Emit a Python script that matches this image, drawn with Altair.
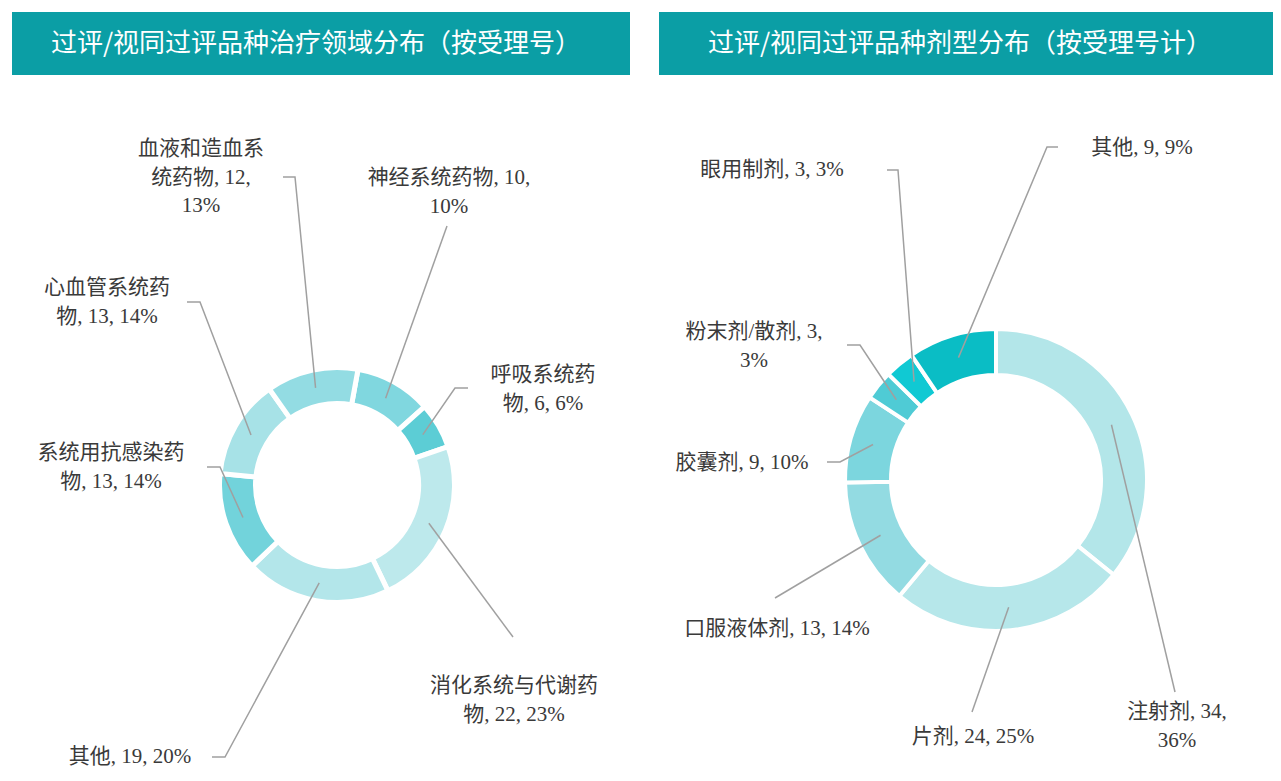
import math
import altair as alt
import pandas as pd

# ---------------- data ----------------
titles = ["过评/视同过评品种治疗领域分布（按受理号）", "过评/视同过评品种剂型分布（按受理号计）"]

left_cats = ["神经系统药物", "呼吸系统药物", "消化系统与代谢药物", "其他",
             "系统用抗感染药物", "心血管系统药物", "血液和造血系统药物"]
left_vals = [10, 6, 22, 19, 13, 13, 12]
left_pcts = [10, 6, 23, 20, 14, 14, 13]
left_colors = ["#80d7df", "#5ccdd5", "#bde9ec", "#b3e6ea", "#72d3db", "#a7e2e7", "#93dce3"]

right_cats = ["注射剂", "片剂", "口服液体剂", "胶囊剂", "粉末剂/散剂", "眼用制剂", "其他"]
right_vals = [34, 24, 13, 9, 3, 3, 9]
right_pcts = [36, 25, 14, 10, 3, 3, 9]
right_colors = ["#b3e6e9", "#b6e7ea", "#93dbe2", "#7cd6de", "#4fcbd5", "#10c9d3", "#0abdc5"]

# ---------------- layout (page pixel coordinates) ----------------
W, H = 1265, 760
OX, OY = 8, 8
BANNER_COLOR = "#0b9ea5"
banners = [(12, 630, 12, 75), (659, 1273, 12, 75)]
title_pos = [(316, 44), (960, 44)]

left_geo = dict(cx=337, cy=485, ro=115, ri=84, gap=5, start=10.3)
right_geo = dict(cx=996, cy=480, ro=149, ri=107, gap=4, start=0.0)

# number of characters per wrapped line (rest goes to last line)
left_wrap = [[11], [5], [8], [], [7], [6], [6, 8]]
right_wrap = [[8], [], [], [], [10], [], []]

left_text_pos = [(449, 178), (543, 375), (514, 686), (130, 757), (111, 453), (107, 288), (201, 149)]
right_text_pos = [(1177, 712), (973, 737), (777, 629), (742, 463), (754, 332), (772, 170), (1142, 148)]
LINE_STEP = 28.5

left_leader = [[(447, 226)], [(455, 388), (468, 388)], [(513, 637)], [(225, 757), (212, 757)],
               [(220, 467), (207, 467)], [(200, 302), (187, 302)], [(295, 177), (283, 177)]]
right_leader = [[(1175, 692)], [(972, 712)], [(775, 598)], [(840, 462), (827, 462)],
                [(860, 345), (847, 345)], [(898, 170), (887, 170)], [(1047, 147), (1058, 147)]]

LABEL_FONT = "Liberation Serif, Noto Sans CJK SC"
TITLE_FONT = "Noto Sans CJK SC"

xs = alt.Scale(domain=[OX, OX + W], range=[0, W], nice=False, zero=False)
ys = alt.Scale(domain=[OY, OY + H], range=[0, H], nice=False, zero=False)


def wrap(s, counts):
    out, i = [], 0
    for c in counts:
        out.append(s[i:i + c].strip())
        i += c
    out.append(s[i:].strip())
    return out


text_rows, line_rows = [], []


def build(side, cats, vals, pcts, wraps, tpos, leaders, geo):
    total = sum(vals)
    cum = 0
    rm = (geo["ro"] + geo["ri"]) / 2
    for i, (c, v, p) in enumerate(zip(cats, vals, pcts)):
        mid = geo["start"] + (cum + v / 2) / total * 360
        cum += v
        a = math.radians(mid)
        sx = geo["cx"] + rm * math.sin(a)
        sy = geo["cy"] - rm * math.cos(a)
        key = f"{side}{i}"
        pts = [(sx, sy)] + leaders[i]
        for k, (px, py) in enumerate(pts):
            line_rows.append(dict(key=key, ord=k, px=px, py=py))
        lines = wrap(f"{c}, {v}, {p}%", wraps[i])
        x0, y0 = tpos[i]
        for k, ln in enumerate(lines):
            text_rows.append(dict(key=key, t=ln, px=x0, py=y0 + k * LINE_STEP))


build("L", left_cats, left_vals, left_pcts, left_wrap, left_text_pos, left_leader, left_geo)
build("R", right_cats, right_vals, right_pcts, right_wrap, right_text_pos, right_leader, right_geo)

banner_df = pd.DataFrame([dict(x=a, x2=b, y=c, y2=d) for a, b, c, d in banners])
title_df = pd.DataFrame([dict(t=t, px=p[0], py=p[1]) for t, p in zip(titles, title_pos)])
line_df = pd.DataFrame(line_rows)
text_df = pd.DataFrame(text_rows)

banner = alt.Chart(banner_df).mark_rect(color=BANNER_COLOR).encode(
    x=alt.X("x:Q", scale=xs, axis=None), x2="x2:Q",
    y=alt.Y("y:Q", scale=ys, axis=None), y2="y2:Q")

title = alt.Chart(title_df).mark_text(color="white", fontSize=26, font=TITLE_FONT,
                                      align="center", baseline="middle").encode(
    x=alt.X("px:Q", scale=xs, axis=None), y=alt.Y("py:Q", scale=ys, axis=None), text="t:N")


def donut(cats, vals, colors, geo):
    df = pd.DataFrame(dict(cat=cats, value=vals, color=colors, idx=list(range(len(cats)))))
    a0 = math.radians(geo["start"])
    g = geo["gap"]
    return alt.Chart(df).mark_arc(radius=geo["ro"] + g / 2, radius2=geo["ri"] - g / 2,
                                  stroke="white", strokeWidth=g).encode(
        theta=alt.Theta("value:Q", stack=True, scale=alt.Scale(range=[a0, a0 + 2 * math.pi])),
        color=alt.Color("color:N", scale=None),
        order=alt.Order("idx:Q", sort="ascending"),
        x=alt.value(geo["cx"] - OX), y=alt.value(geo["cy"] - OY),
        tooltip=["cat:N", "value:Q"])


arcL = donut(left_cats, left_vals, left_colors, left_geo)
arcR = donut(right_cats, right_vals, right_colors, right_geo)

leaders = alt.Chart(line_df).mark_line(color="#a0a0a0", strokeWidth=1.5).encode(
    x=alt.X("px:Q", scale=xs, axis=None), y=alt.Y("py:Q", scale=ys, axis=None),
    detail="key:N", order="ord:Q")

labels = alt.Chart(text_df).mark_text(color="#3a3a3a", fontSize=21, font=LABEL_FONT,
                                      align="center", baseline="middle").encode(
    x=alt.X("px:Q", scale=xs, axis=None), y=alt.Y("py:Q", scale=ys, axis=None), text="t:N")

chart = alt.layer(banner, title, arcL, arcR, leaders, labels).resolve_scale(
    theta="independent").properties(
    width=W, height=H, padding=0, autosize=alt.AutoSizeParams(type="none"),
    background="white").configure_view(stroke=None)

chart.save("out.html", embed_options={"renderer": "svg", "actions": False})
